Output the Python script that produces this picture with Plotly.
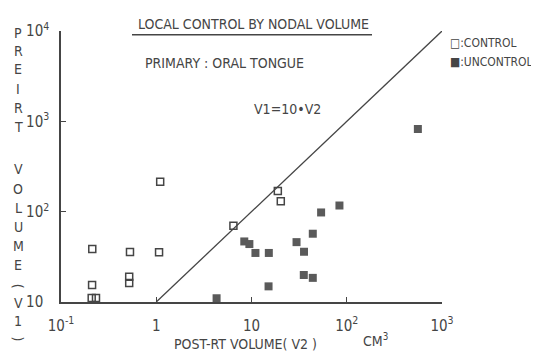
import plotly.graph_objects as go

# --- data ---
control_v2 = [1.1, 0.213, 0.53, 1.07, 0.212, 0.52, 0.52, 0.21, 0.233, 18.9, 20.3, 6.46]
control_v1 = [215, 38.5, 35.7, 35.5, 15.4, 19.0, 16.2, 11.1, 11.1, 169, 130, 69.8]

uncontrol_v2 = [8.4, 9.5, 11.0, 15.2, 29.7, 35.6, 44, 53.8, 83.8, 35.4, 44, 15.1, 4.3, 558]
uncontrol_v1 = [46.8, 43.8, 34.9, 34.9, 46, 36, 57, 98, 117, 19.9, 18.5, 14.9, 11, 822]

line_v2 = [1, 1000]
line_v1 = [10 * v for v in line_v2]

HID = "<span style='color:rgba(0,0,0,0)'>2</span>"
x_tickvals = [0.1, 1, 10, 100, 1000]
x_ticktext = ["10<sup>-1</sup>", "1", "10", "10<sup>2</sup>", "10<sup>3</sup>"]
y_tickvals = [10, 100, 1000, 10000]
y_ticktext = ["10<sup>" + HID + "</sup>", "10<sup>2</sup>", "10<sup>3</sup>", "10<sup>4</sup>"]

FONT = "DejaVu Sans Condensed, Liberation Sans Narrow, DejaVu Sans, sans-serif"
INK = "#454545"

fig = go.Figure()
fig.add_trace(go.Scatter(x=line_v2, y=line_v1, mode="lines",
                         line=dict(color=INK, width=1.3), hoverinfo="skip", showlegend=False))
fig.add_trace(go.Scatter(x=control_v2, y=control_v1, mode="markers", name="CONTROL",
                         marker=dict(symbol="square-open", size=7, color=INK, line=dict(width=1.5, color=INK))))
fig.add_trace(go.Scatter(x=uncontrol_v2, y=uncontrol_v1, mode="markers", name="UNCONTROL",
                         marker=dict(symbol="square", size=8, color="#5a5a5a")))

axis_common = dict(type="log", showgrid=False, zeroline=False, showline=True,
                   linecolor=INK, linewidth=1.5, ticks="inside", ticklen=5,
                   tickcolor=INK, tickwidth=1.3, tickmode="array",
                   tickfont=dict(family=FONT, size=15, color=INK))

fig.update_xaxes(range=[-1, 3], tickvals=x_tickvals, ticktext=x_ticktext,
                 ticklabelstandoff=9, **axis_common)
fig.update_yaxes(range=[1, 4], tickvals=y_tickvals, ticktext=y_ticktext,
                 ticklabelstandoff=7, **axis_common)

annots = []
def txt(x, y, s, size=13, angle=0, anchor="center"):
    annots.append(dict(x=x, y=y, xref="paper", yref="paper", text=s, showarrow=False,
                       font=dict(family=FONT, size=size, color=INK), textangle=angle,
                       xanchor=anchor, yanchor="middle"))

# plot area in page pixels: x 61..442, y 20..302 (page body has an 8px margin)
W = 381.0
H = 282.0
def px(xp):
    return (xp - 61) / W
def py(yp):
    return (302 - yp) / H

# vertical y-axis label
letters = [("P", 22), ("R", 41), ("E", 60), ("I", 80), ("R", 100), ("T", 120),
           ("V", 164), ("O", 184), ("L", 204), ("U", 224), ("M", 244), ("E", 264),
           ("V", 303), ("1", 322)]
for ch, yy in letters:
    txt(px(18), py(yy), ch, size=14)
txt(px(18), py(285), "(", size=14, angle=90)
txt(px(18), py(340), ")", size=14, angle=90)

# titles
txt(px(253), py(13), "LOCAL CONTROL BY NODAL VOLUME", size=14)
txt(px(224), py(53), "PRIMARY : ORAL TONGUE", size=14)
txt(px(287), py(101), "V1=10•V2", size=14)
txt(px(245), py(346), "POST-RT VOLUME( V2 )", size=14)
txt(px(375), py(342), "CM<sup>3</sup>", size=14)

# legend
txt(px(448), py(33), "□:CONTROL", size=12, anchor="left")
txt(px(448), py(52), "■:UNCONTROL", size=12, anchor="left")

shapes = [dict(type="line", xref="paper", yref="paper", x0=px(132), x1=px(372),
               y0=py(24), y1=py(24), line=dict(color=INK, width=1.5))]

OFF = 8  # default page body margin
fig.update_layout(width=539, height=358,
                  margin=dict(l=61 - OFF, r=539 - 442 + OFF, t=20 - OFF, b=358 - 302 + OFF),
                  paper_bgcolor="white", plot_bgcolor="white", showlegend=False,
                  annotations=annots, shapes=shapes)

fig.write_html("out.html")
